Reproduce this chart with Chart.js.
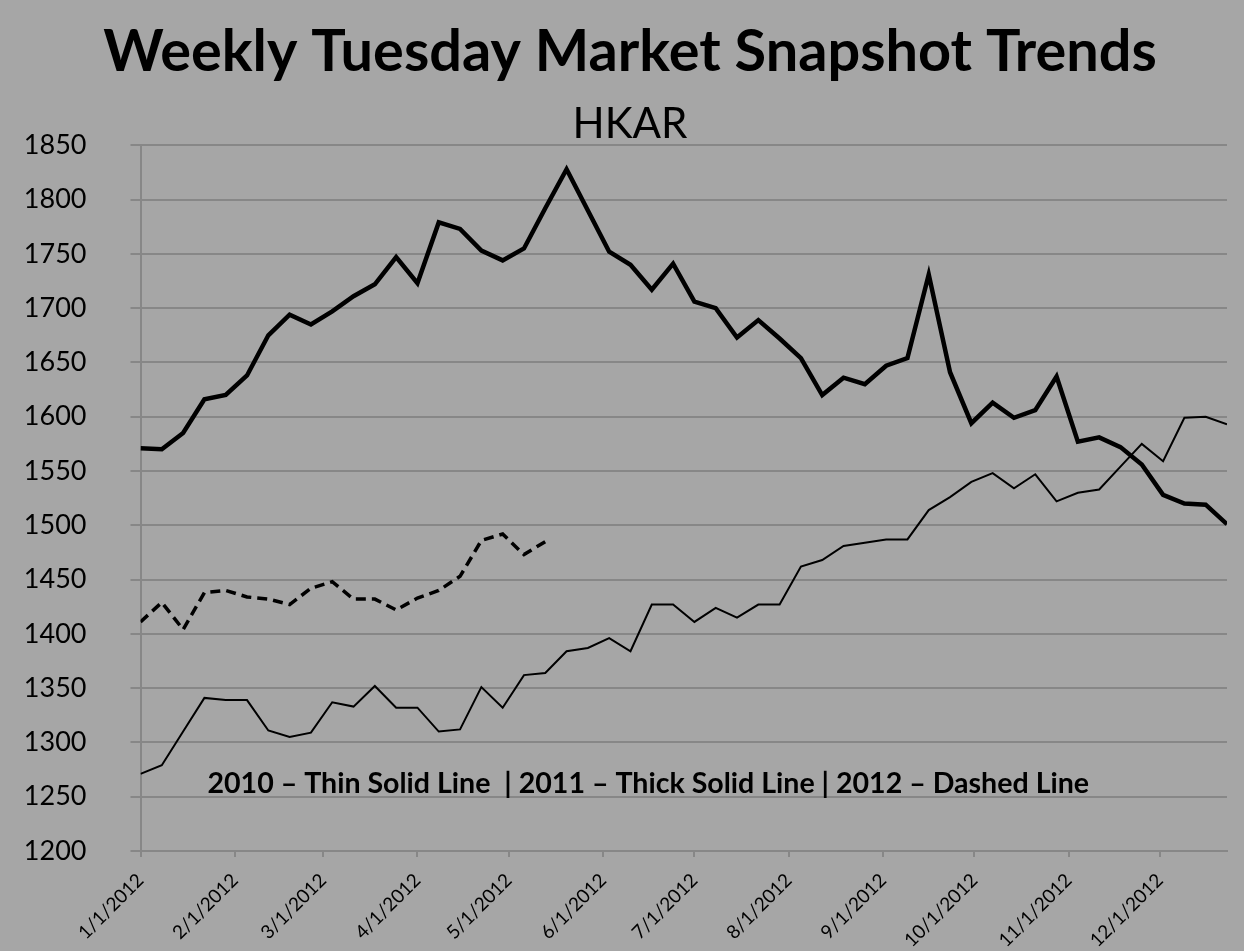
<!DOCTYPE html>
<html>
<head>
<meta charset="utf-8">
<script src="https://cdn.jsdelivr.net/npm/chart.js@4/dist/chart.umd.min.js"></script>
<style>
  html, body { margin: 0; padding: 0; background: #a6a6a6; }
  canvas { display: block; }
</style>
</head>
<body>
<canvas id="c" width="1244" height="951"></canvas>
<script>
// ---- data ----
const titleText = 'Weekly Tuesday Market Snapshot Trends';
const subtitleText = 'HKAR';
const noteText = '2010 \u2013 Thin Solid Line  | 2011 \u2013 Thick Solid Line | 2012 \u2013 Dashed Line';

const monthTickDays = [0, 31, 60, 91, 121, 152, 182, 213, 244, 274, 305, 335];
const monthTickLabels = ['1/1/2012', '2/1/2012', '3/1/2012', '4/1/2012', '5/1/2012', '6/1/2012',
  '7/1/2012', '8/1/2012', '9/1/2012', '10/1/2012', '11/1/2012', '12/1/2012'];

const values2010 = [1271, 1279, 1310, 1341, 1339, 1339, 1311, 1305, 1309, 1337, 1333, 1352, 1332,
  1332, 1310, 1312, 1351, 1332, 1362, 1364, 1384, 1387, 1396, 1384, 1427, 1427,
  1411, 1424, 1415, 1427, 1427, 1462, 1468, 1481, 1484, 1487, 1487, 1514, 1526,
  1540, 1548, 1534, 1547, 1522, 1530, 1533, 1554, 1575, 1559, 1599, 1600, 1593];

const values2011 = [1571, 1570, 1585, 1616, 1620, 1638, 1675, 1694, 1685, 1697, 1711, 1722, 1747,
  1723, 1779, 1773, 1753, 1744, 1755, 1792, 1828, 1790, 1752, 1740, 1717, 1741,
  1706, 1700, 1673, 1689, 1672, 1654, 1620, 1636, 1630, 1647, 1654, 1731, 1641,
  1594, 1613, 1599, 1606, 1637, 1577, 1581, 1572, 1556, 1528, 1520, 1519, 1501];

const values2012 = [1411, 1429, 1404, 1438, 1440, 1434, 1432, 1427, 1442, 1448, 1432, 1432, 1422,
  1433, 1440, 1453, 1486, 1492, 1473, 1485];

const daysPerWeek = 7;
const yMin = 1200, yMax = 1850, yStep = 50;

// ---- helpers ----
const FAMILY = 'Lato, "Open Sans", sans-serif';
const mctx = document.createElement('canvas').getContext('2d');
function fitSize(text, weight, target) {
  mctx.font = weight + ' 100px ' + FAMILY;
  return 100 * target / mctx.measureText(text).width;
}
function toPoints(arr) { return arr.map((v, i) => ({ x: i * daysPerWeek, y: v })); }

const titleSize = fitSize(titleText, 'bold', 1054);
const subSize = fitSize(subtitleText, 'normal', 115);
const noteSize = fitSize(noteText, 'bold', 882);

const titleCenter = 52, subCenter = 124, plotTop = 145.3;
const titlePadTop = titleCenter - titleSize / 2;
const titleBlock = titlePadTop + titleSize;
const subPadTop = Math.max(0, subCenter - subSize / 2 - titleBlock);
const subPadBottom = Math.max(0, plotTop - (titleBlock + subPadTop + subSize));

const GRID = '#878787';
const PAD_LEFT = 18, PAD_RIGHT = 2;

const notePlugin = {
  id: 'note',
  afterDatasetsDraw(chart) {
    const c = chart.ctx;
    const xs = chart.scales.x, ys = chart.scales.y;
    c.save();
    c.font = 'bold ' + noteSize + 'px ' + FAMILY;
    c.fillStyle = '#000';
    c.textAlign = 'left';
    c.textBaseline = 'middle';
    c.fillText(noteText, xs.getPixelForValue(22), ys.getPixelForValue(1262));
    c.restore();
  }
};

new Chart(document.getElementById('c'), {
  type: 'line',
  data: {
    datasets: [
      { label: '2010', data: toPoints(values2010), borderColor: '#000', borderWidth: 2,
        pointRadius: 0, tension: 0, fill: false },
      { label: '2011', data: toPoints(values2011), borderColor: '#000', borderWidth: 4.5,
        pointRadius: 0, tension: 0, fill: false },
      { label: '2012', data: toPoints(values2012), borderColor: '#000', borderWidth: 3.5,
        borderDash: [10, 6], pointRadius: 0, tension: 0, fill: false }
    ]
  },
  options: {
    responsive: false,
    animation: false,
    events: [],
    layout: { padding: { left: PAD_LEFT, right: PAD_RIGHT, top: 0, bottom: 0 } },
    plugins: {
      legend: { display: false },
      tooltip: { enabled: false },
      title: {
        display: true, text: titleText, color: '#000',
        font: { family: FAMILY, size: titleSize, weight: 'bold', lineHeight: 1 },
        padding: { top: titlePadTop, bottom: 0 }
      },
      subtitle: {
        display: true, text: subtitleText, color: '#000',
        font: { family: FAMILY, size: subSize, weight: 'normal', lineHeight: 1 },
        padding: { top: subPadTop, bottom: subPadBottom }
      }
    },
    scales: {
      x: {
        type: 'linear',
        min: 0,
        max: (values2011.length - 1) * daysPerWeek,
        afterBuildTicks(scale) { scale.ticks = monthTickDays.map(v => ({ value: v })); },
        afterFit(scale) { scale.height = 100; },
        ticks: {
          autoSkip: false, minRotation: 45, maxRotation: 45,
          color: '#000', padding: 12,
          font: { family: FAMILY, size: 19 },
          callback(value, index) { return monthTickLabels[index]; }
        },
        grid: { drawOnChartArea: false, drawTicks: true, tickLength: 6, color: GRID, lineWidth: 2 },
        border: { display: true, color: GRID, width: 2 }
      },
      y: {
        min: yMin, max: yMax,
        afterFit(scale) { scale.width = 140.5 - PAD_LEFT; },
        ticks: {
          stepSize: yStep, color: '#000', padding: 44,
          font: { family: FAMILY, size: 27 },
          callback(value) { return String(value); }
        },
        grid: { color: GRID, lineWidth: 2, tickLength: 10, drawTicks: true },
        border: { display: true, color: GRID, width: 2 }
      },
      yRight: {
        position: 'right',
        display: true,
        afterFit(scale) { scale.width = 1244 - PAD_RIGHT - 1227; },
        ticks: { display: false },
        grid: { display: false },
        border: { display: false }
      }
    }
  },
  plugins: [notePlugin]
});
</script>
</body>
</html>
